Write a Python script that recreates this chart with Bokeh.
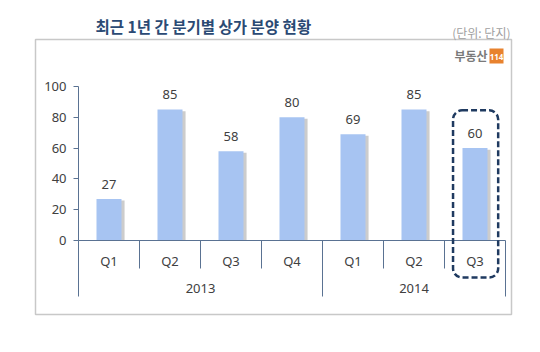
from bokeh.plotting import figure
from bokeh.models import Range1d, FixedTicker, ColumnDataSource
from bokeh.core.properties import value
from bokeh.embed import file_html
from bokeh.resources import INLINE

# ---- data ----
quarters = ["Q1", "Q2", "Q3", "Q4", "Q1", "Q2", "Q3"]
year_of = ["2013", "2013", "2013", "2013", "2014", "2014", "2014"]
years = ["2013", "2014"]
values = [27, 85, 58, 80, 69, 85, 60]
y_ticks = [0, 20, 40, 60, 80, 100]
highlight_index = 6
title_text = "최근 1년 간 분기별 상가 분양 현황"
unit_text = "(단위: 단지)"
logo_text = "부동산"
logo_num = "114"

# ---- styles / layout ----
W, H = 540, 352
X0_PX, CAT_PX = 78, 61          # pixel of first category edge, pixels per category
Y0_PX, UNIT_PX = 240, 1.54      # pixel of value 0, pixels per unit
BAR = "#a7c4f2"
SHADOW = "#9a9a9a"
AXIS = "#5a7292"
TXT = "#404040"
NAVY = "#1f3a60"
NUM_FONT = value("Noto Sans")
KR_FONT = value("Noto Sans CJK KR")


def px(x):  # canvas pixel -> data x
    return (x - X0_PX) / CAT_PX


def py(y):  # canvas pixel -> data y
    return (Y0_PX - y) / UNIT_PX


n = len(values)
xs = [i + 0.5 for i in range(n)]

p = figure(width=W, height=H, x_range=Range1d(px(0), px(W)), y_range=Range1d(py(H), py(0)),
           output_backend="svg", toolbar_location=None, x_axis_type=None,
           min_border=0, min_border_left=0, min_border_right=0,
           min_border_top=0, min_border_bottom=0)
p.xgrid.visible = False
p.ygrid.visible = False
p.outline_line_color = None
p.background_fill_color = "white"
p.border_fill_color = "white"

# outer box
p.quad(left=[px(35)], right=[px(511)], top=[py(39)], bottom=[py(314)],
       fill_color=None, line_color="#c8c8c8", line_width=1.5)

ax = p.yaxis[0]
ax.fixed_location = 0
ax.bounds = (0, 100)
ax.ticker = FixedTicker(ticks=y_ticks)
ax.axis_line_color = AXIS
ax.axis_line_width = 1
ax.major_tick_line_color = AXIS
ax.major_tick_in = 0
ax.major_tick_out = 5
ax.minor_tick_line_color = None
ax.major_label_text_font = "Noto Sans"
ax.major_label_text_font_size = "13px"
ax.major_label_text_color = TXT
ax.major_label_standoff = 7

src = ColumnDataSource(dict(x=xs, v=values, lab=[str(v) for v in values], q=quarters,
                            xs_sh=[x + 0.05 for x in xs], vs_sh=[v - 1 for v in values],
                            ly=[v + 9.5 for v in values]))

# bars with shadow
p.vbar(x="xs_sh", top="vs_sh", bottom=0, width=0.41, source=src,
       fill_color=SHADOW, fill_alpha=0.5, line_color=None)
p.vbar(x="x", top="v", bottom=0, width=0.41, source=src,
       fill_color=BAR, line_color=None)

# value labels
p.text(x="x", y="ly", text="lab", source=src, text_align="center", text_baseline="middle",
       text_font=NUM_FONT, text_font_size="13px", text_color=TXT)

# x axis line and separators
p.segment(x0=[0], y0=[0], x1=[n], y1=[0], line_color=AXIS, line_width=1)
year_bounds = [0] + [i for i in range(1, n) if year_of[i] != year_of[i - 1]] + [n]
q_bounds = [i for i in range(1, n) if i not in year_bounds]
p.segment(x0=q_bounds, y0=[0] * len(q_bounds), x1=q_bounds, y1=[py(268)] * len(q_bounds),
          line_color=AXIS, line_width=1)
p.segment(x0=year_bounds, y0=[0] * len(year_bounds), x1=year_bounds,
          y1=[py(296)] * len(year_bounds), line_color=AXIS, line_width=1)

# quarter labels
p.text(x="x", y=py(260), text="q", source=src, text_align="center", text_baseline="middle",
       text_font=NUM_FONT, text_font_size="13px", text_color=TXT)

# year labels
ycent = []
for yr in years:
    idx = [i for i in range(n) if year_of[i] == yr]
    ycent.append((min(idx) + max(idx) + 1) / 2)
p.text(x=ycent, y=[py(288)] * len(years), text=years, text_align="center",
       text_baseline="middle", text_font=NUM_FONT, text_font_size="13px", text_color=TXT)

# highlight dashed rounded rect
hx = xs[highlight_index]
p.quad(left=[hx - 0.36], right=[hx + 0.38], top=[values[highlight_index] + 24.5],
       bottom=[py(277)], fill_color=None, line_color=NAVY, line_width=2.5,
       line_dash="6 3", border_radius=9)

# title and unit
p.text(x=[px(95)], y=[py(25)], text=[title_text], text_font=KR_FONT,
       text_font_size="15.5px", text_font_style="bold", text_color="#2b4a74",
       text_baseline="middle", text_align="left")
p.text(x=[px(510)], y=[py(32)], text=[unit_text], text_font=KR_FONT,
       text_font_size="12px", text_color="#a0a0a0", text_baseline="middle", text_align="right")

# logo
p.text(x=[px(487)], y=[py(55)], text=[logo_text], text_font=KR_FONT,
       text_font_size="12px", text_font_style="bold", text_color="#7a7a7a",
       text_baseline="middle", text_align="right")
p.quad(left=[px(489)], right=[px(503)], top=[py(48)], bottom=[py(63)],
       fill_color="#e8822e", line_color=None)
p.text(x=[px(496)], y=[py(56)], text=[logo_num], text_font=NUM_FONT,
       text_font_size="8px", text_font_style="bold", text_color="white",
       text_baseline="middle", text_align="center")

open("out.html", "w").write(file_html(p, INLINE))
